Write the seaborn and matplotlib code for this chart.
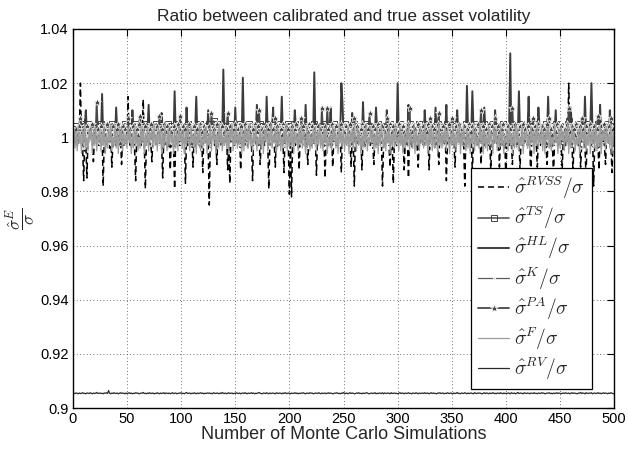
import numpy as np
import pandas as pd
import matplotlib
matplotlib.use("Agg")
import matplotlib.pyplot as plt
import seaborn as sns

# Number of Monte Carlo simulations on the x axis
sims = np.arange(1, 501)

# Ratios, stored as per-mille deviations from 1 (value = 1 + v/1000)
rvss_pm = [
    -2, 1, -3, -1, 0, 2, 20, -1, -4, -16, 1, -3, -15, 0, -2, -1, 1, -3, -9, 0, -2, 1, -1, -3, 0,
    -2, 1, -18, -1, 2, -3, 0, -1, -4, 1, -11, -2, 0, 1, -3, -1, 2, -2, 0, -10, 1, -3, -1, 0, -2,
    15, -1, -3, 1, -2, 0, -4, -16, 1, -2, 0, -1, -3, 1, 14, -2, -19, 0, -1, -3, 1, -2, -9, 0, -1,
    1, -3, 0, -2, -1, 1, -3, -15, 0, -1, 2, -2, -4, 0, -12, 1, -1, -3, -19, 0, -2, 1, -1, -3, 0,
    -2, 1, -1, -17, 0, -3, 1, -2, 0, -1, -11, 1, -3, 0, -2, 1, -1, -4, 0, -13, 1, -2, 0, -1, -3,
    -25, 0, -2, 1, -1, -3, 0, -10, 1, -2, -1, 0, -3, 1, -2, -1, 0, -12, -2, -17, 1, -1, 0, -3, -2,
    1, -1, -3, 0, -12, 1, -2, -1, 0, -3, 1, -2, -1, 0, -3, -16, 1, -2, 0, -1, -3, 1, -10, -2, 0,
    -1, -3, 1, 0, -2, -19, -1, 1, -3, 0, -2, -11, 1, -1, -3, 0, -2, 1, -1, -13, 0, -2, 1, -3, -21,
    -1, -22, 1, -2, 0, -3, -1, 1, -12, 0, -2, -1, 1, -3, 0, -2, -10, 1, -1, -3, 0, -2, 1, -1, -14,
    0, -2, 1, -3, -1, 0, -2, -15, 1, -1, -3, 0, -2, 1, -11, -1, 0, -3, 1, -2, -1, 0, -13, 1, -2,
    -1, 0, -3, 1, -2, -1, -11, 0, -2, -18, 1, -1, -3, 0, -2, 1, -12, -1, 0, -3, 1, -2, -1, 0, -3,
    1, -2, -10, 0, -1, -3, 1, -2, 0, -1, -18, -3, 1, -2, 0, -1, -3, -11, 1, -2, -17, -1, 0, -3, 1,
    -2, 0, -1, -3, 1, -12, -2, 0, -1, -15, 1, -2, -3, 0, -1, 1, -2, -3, -11, 0, -1, 1, -2, -3, 0,
    -1, -2, 1, -12, 0, -1, -3, 1, -2, 0, -1, -3, -10, 1, -2, 0, -1, -3, 1, -16, -2, 0, -1, 1, -3,
    0, -2, -11, 1, -1, -3, 0, -2, 1, -1, -3, -18, 0, -2, 1, -1, -3, 0, -13, -2, 1, -1, 0, -3, -2,
    1, -10, -1, 0, -3, -2, 1, -1, -3, 0, -12, -2, 1, -1, 0, -3, -2, 1, -11, -1, 0, -3, 1, -2, -16,
    0, -1, -3, 1, -2, -10, 0, -1, -3, 1, -2, 0, -12, -1, -3, 1, -2, 0, -1, -3, 1, -2, -15, 0, -1,
    -3, 1, -2, -11, 0, -1, -3, 1, -2, 0, -1, -3, -10, 1, -2, 0, -1, -3, -15, 1, -2, 0, -1, -3, 1,
    -2, -12, 0, -1, -3, 1, -2, 20, 0, -1, -3, -13, 1, -2, 0, -1, -3, 1, -11, -2, 0, -1, -3, -15, 1,
    -2, 0, -1, -3, 1, -18, -2, 0, -1, -3, -12, 1, -2, 0, -1, -3, -10, 1, -2, 0, -1, -3, -13, 0, -2,
]

ts_pm = [
    3, 1, 4, 2, 3, 0, 3, 5, 1, 2, 4, -1, 3, 2, 5, 1, 4, 0, 2, 3, 3, 1, 4, 2, 0,
    5, 2, 3, -1, 4, 1, 3, 2, 0, 3, 5, 1, 2, 4, 0, 3, 3, 2, 1, 4, -1, 3, 5, 2, 1,
    4, 0, 2, 3, 3, 1, 5, 2, -1, 4, 3, 1, 3, 2, 0, 4, 3, 5, 1, 2, -1, 4, 3, 3, 1,
    2, 5, 0, 3, 4, 1, 2, 3, 3, -1, 4, 2, 5, 1, 3, 0, 4, 2, 3, 1, 3, 5, 0, 2, 4,
    1, 3, 3, 2, 0, 5, 3, 1, 4, 2, -1, 3, 3, 1, 4, 2, 5, 0, 3, 1, 4, 3, 2, 0, 3,
    5, 1, 4, 2, 6, 0, 3, 5, 1, 2, 4, -1, 3, 3, 2, 1, 4, 3, 0, 5, 2, 4, 1, 3, 3,
    0, 4, 2, 5, 1, 3, -1, 3, 2, 4, 1, 3, 5, 0, 2, 4, 1, 3, 3, 2, -1, 4, 5, 1, 3,
    2, 3, 0, 4, 3, 1, 5, 2, -1, 3, 4, 1, 3, 2, 0, 5, 3, 1, 4, 2, 3, 0, 3, 5, 1,
    4, 2, 3, -1, 5, 1, 3, 2, 0, 4, 3, 1, 5, 2, 4, 0, 3, 3, 1, 2, 4, -1, 5, 3, 2,
    1, 4, 3, 0, 3, 2, 5, 1, 4, -1, 3, 3, 2, 1, 4, 5, 0, 3, 2, 4, 1, 3, 3, 0, 2,
    5, 1, 3, 4, 0, 2, 3, 3, 1, 5, -1, 4, 2, 3, 3, 1, 0, 4, 2, 5, 3, 1, 4, 0, 2,
    3, 3, 1, 4, 2, 0, 5, 3, 1, 4, 2, -1, 3, 3, 2, 0, 4, 5, 1, 3, 2, 3, 0, 4, 1,
    2, 5, 3, 0, 4, 1, 3, 2, 3, -1, 5, 4, 1, 2, 3, 3, 0, 4, 2, 5, 1, 3, 3, 0, 4,
    1, 3, 5, 2, 0, 3, 4, 1, 3, 2, -1, 5, 4, 2, 1, 3, 3, 0, 4, 2, 5, 1, 3, 3, 2,
    0, 4, 2, 5, 3, 1, 3, 0, 4, 2, 3, -1, 5, 1, 4, 2, 3, 3, 0, 4, 1, 5, 2, 3, 3,
    1, 4, 0, 3, 5, 2, 1, 3, 3, 4, -1, 2, 5, 1, 3, 4, 0, 3, 2, 3, 1, 5, 4, 0, 2,
    3, 3, 1, 4, 2, 5, 0, 3, 4, 1, 3, 2, -1, 5, 3, 4, 1, 2, 3, 0, 3, 5, 1, 4, 2,
    3, 0, 5, 2, 4, 1, 3, 3, 2, -1, 4, 5, 1, 3, 3, 2, 0, 4, 3, 1, 5, 2, 3, 0, 4,
    2, 4, 1, 3, 3, 0, 5, 6, 2, 4, 1, 3, 3, 2, -1, 4, 5, 1, 3, 2, 3, 0, 4, 3, 1,
    5, 2, 4, 0, 3, 3, 1, 4, 2, 5, -1, 3, 3, 1, 4, 2, 0, 5, 3, 1, 4, 3, 2, 0, 3,
]

hl_pm = [
    2, -1, 3, 0, 4, 1, -2, 3, 0, 2, 5, 10, 1, -1, 3, 2, 0, 4, -2, 1, 3, 0, 2, -1, 4,
    1, 16, 0, 3, -1, 2, 4, 0, 1, -2, 3, 1, 5, 0, 11, 2, -1, 3, 1, 0, 4, -1, 2, 3, 0,
    2, 4, -1, 1, 10, 3, 0, 2, -2, 4, 1, 3, 0, 2, -1, 5, 1, 0, 3, 12, 1, -1, 4, 2, 0,
    3, -1, 2, 1, 4, 0, 9, 2, -2, 3, 1, 0, 4, 2, -1, 3, 1, 0, 17, 2, 4, -1, 1, 3, 0,
    2, 1, 4, -1, 11, 3, 0, 2, -2, 1, 4, 0, 3, 15, 1, -1, 2, 4, 0, 3, 1, -2, 2, 0, 10,
    1, 3, -1, 4, 0, 2, 1, 3, -2, 4, 0, 2, 1, 25, 3, -1, 2, 0, 4, 1, 3, -1, 2, 0, 11,
    2, 4, -1, 1, 3, 0, 22, 2, 1, -2, 4, 0, 3, 1, 2, -1, 4, 0, 2, 12, 1, 3, -1, 0, 2,
    4, 1, -1, 15, 2, 0, 3, 1, 4, 11, -1, 2, 0, 3, 1, 4, 2, 15, 0, 3, -1, 2, 1, 4, 0,
    2, 3, -1, 1, 10, 4, 0, 2, 1, 3, -2, 2, 4, 0, 12, 1, 3, -1, 2, 0, 4, 1, 24, 2, 0,
    3, -1, 2, 4, 1, 0, 3, 2, -2, 4, 1, 0, 11, 3, 1, 2, -1, 4, 0, 2, 3, 1, 20, 13, 2,
    0, 3, -1, 4, 2, 1, 0, 9, 3, -2, 2, 4, 1, 0, 3, 2, -1, 13, 1, 4, 0, 2, 3, -1, 1,
    4, 0, 2, 1, 11, 3, -1, 2, 4, 0, 1, 3, -2, 2, 10, 4, 1, 0, 3, 2, -1, 4, 1, 0, 20,
    2, 3, -1, 1, 4, 0, 2, 3, 1, 12, -2, 4, 0, 2, 1, 3, -1, 4, 0, 2, 1, 3, 0, -1, 10,
    2, 4, 1, 0, 3, -1, 2, 4, 1, 11, 0, 3, 2, -2, 4, 1, 0, 3, 2, 12, -1, 4, 1, 0, 2,
    3, 1, -1, 4, 10, 2, 0, 3, 1, -2, 4, 2, 0, 19, 3, 1, -1, 2, 17, 4, 0, 2, 1, 3, -1,
    2, 4, 0, 1, 11, 3, -1, 2, 4, 0, 1, 3, 2, -2, 10, 4, 1, 0, 3, 2, -1, 4, 1, 0, 2,
    3, 1, 4, 31, 0, 2, -1, 3, 1, 4, 0, 17, 2, -1, 3, 1, 4, 0, 2, 3, 15, -1, 1, 4, 0,
    2, 3, -1, 1, 11, 4, 0, 2, 3, 1, -2, 4, 2, 15, 0, 3, 1, -1, 4, 2, 10, 0, 3, 1, 2,
    -1, 4, 0, 2, 3, 1, -2, 4, 2, 11, 0, 3, 1, 2, -1, 4, 0, 3, 2, 1, 4, -1, 15, 2, 0,
    3, 1, 4, 20, 2, -1, 0, 3, 4, 1, 2, 12, -1, 3, 0, 2, 4, 1, 3, -2, 10, 2, 0, 4, 1,
]

k_pm = [
    1, -2, 3, 0, -3, 2, 4, -1, 1, -4, 3, 0, 2, -2, 5, -1, 1, 3, -3, 0, 2, -1, 4, -2, 1,
    0, 3, -3, 2, -1, 4, 1, -2, 0, 3, -4, 2, 1, -1, 4, 0, -3, 2, 1, -2, 3, 0, -1, 5, -2,
    2, -1, 4, 0, -3, 1, 3, -2, 2, -4, 1, 4, -1, 0, 3, -2, 2, 1, -3, 4, 0, -1, 2, -2, 3,
    -1, 2, 0, 4, -3, 1, -2, 3, 0, 5, -1, 2, -4, 1, 3, -2, 0, 4, -1, 2, -3, 1, 3, -2, 0,
    4, -1, 2, -3, 1, 0, 3, -2, 5, -1, 2, 0, -4, 3, 1, -2, 4, 0, -1, 2, -3, 3, 1, -2, 0,
    2, -3, 4, 1, -1, 3, -2, 0, 2, -4, 4, 1, -1, 3, 0, -2, 2, 5, -3, 1, 0, -1, 3, -2, 2,
    -1, 4, 0, -3, 2, 1, -2, 3, 0, 4, -4, 2, -1, 1, 3, -2, 0, 4, -3, 2, 1, -1, 3, 0, -2,
    3, 0, -2, 4, 1, -3, 2, -1, 5, 0, -2, 3, 1, -4, 2, 0, 3, -1, 1, -3, 4, 2, -2, 0, 3,
    -2, 1, 4, -1, 0, 3, -3, 2, 1, -2, 4, 0, -1, 3, -4, 2, 1, 5, -2, 0, 3, -1, 2, -3, 1,
    4, -1, 0, 2, -3, 3, 1, -2, 4, 0, -1, 2, -4, 3, 1, -2, 0, 4, -1, 2, -3, 1, 3, 0, -2,
    2, 0, -3, 4, 1, -1, 3, -2, 0, 5, -3, 2, 1, -1, 4, 0, -2, 3, 1, -4, 2, 0, 3, -1, 1,
    -3, 2, 4, -1, 0, 3, -2, 1, 4, -3, 2, 0, -1, 3, 1, -2, 4, 0, -3, 2, 1, -1, 5, -2, 0,
    3, -1, 1, -3, 4, 0, 2, -2, 3, -1, 0, 4, -4, 2, 1, -2, 3, 0, -1, 4, -3, 2, 1, -1, 3,
    0, -2, 4, 1, -3, 2, 0, 3, -1, -4, 4, 1, -2, 2, 0, 3, -3, 1, 4, -1, 0, 2, -2, 3, 1,
    -1, 3, 0, -3, 4, 2, -2, 1, 3, -1, 0, 5, -4, 2, 1, -2, 3, 0, 4, -1, -3, 2, 1, -2, 4,
    0, 2, -3, 3, 1, -1, 4, 0, -2, 2, 3, -4, 1, 0, 4, -1, 2, -3, 3, 1, -2, 0, 4, -1, 2,
    -3, 1, 3, 0, -2, 4, 1, -1, 2, -4, 3, 0, 5, -2, 1, 2, -3, 4, 0, -1, 3, 1, -2, 2, 0,
    4, -2, 1, 3, -1, 0, 2, -3, 4, 1, -2, 3, 0, -1, 2, -4, 4, 1, -2, 3, 0, -1, 2, 5, -3,
    1, 3, -1, 0, 4, -2, 2, 1, -3, 3, 0, -1, 4, 2, -2, 1, 3, -4, 0, 2, -1, 4, 1, -3, 2,
    0, -1, 3, 2, -3, 4, 1, -2, 0, 3, -1, 2, -4, 1, 4, 0, -2, 3, 1, -1, 2, -3, 4, 0, 1,
]

pa_pm = [
    2, 0, 3, 1, -1, 4, 7, 2, 0, 3, 1, -2, 4, 2, 0, 3, 1, 5, -1, 2, 0, 13, 3, 1, -1,
    4, 2, 0, 3, 1, -2, 5, 2, 0, 3, 1, 4, -1, 2, 0, 3, 5, 1, -2, 2, 4, 0, 3, 1, 2,
    7, 0, 3, 1, -1, 4, 2, 0, 3, 1, 5, 8, 2, -1, 3, 0, 4, 1, 2, -2, 3, 5, 0, 2, 1,
    3, -1, 4, 2, 8, 0, 3, 1, 5, -2, 2, 4, 0, 3, 1, 2, -1, 4, 0, 3, 2, 5, 1, 8, 0,
    2, 4, -1, 3, 1, 0, 5, 2, -2, 3, 1, 4, 0, 2, 3, -1, 5, 1, 2, 0, 4, 3, -1, 2, 1,
    4, 0, 9, 2, 3, -1, 1, 5, 2, 0, 3, -2, 4, 1, 2, 0, 3, 9, 1, 4, -1, 2, 0, 3, 5,
    1, -1, 3, 2, 4, 0, 2, -2, 5, 1, 3, 0, 4, 2, -1, 3, 1, 5, 0, 2, 4, 10, 1, -1, 3,
    2, 0, 4, 1, 3, -2, 5, 2, 0, 3, 1, 7, -1, 4, 2, 0, 3, 1, 5, -1, 2, 4, 0, 3, 1,
    -2, 4, 2, 0, 3, 5, 1, -1, 3, 2, 7, 0, 4, 1, -2, 3, 2, 5, 0, 1, 4, -1, 3, 2, 0,
    4, 1, 3, -1, 11, 2, 0, 4, 1, 11, 3, -2, 2, 5, 0, 3, 1, 4, -1, 2, 0, 3, 5, 1, 2,
    -1, 4, 0, 3, 2, 5, 1, -2, 3, 7, 0, 4, 2, 1, -1, 3, 5, 0, 2, 4, 1, -1, 3, 9, 2,
    0, 4, 1, 3, -2, 2, 5, 0, 3, 1, 4, -1, 2, 0, 7, 3, 1, 5, -1, 2, 4, 0, 3, 1, 2,
    5, -1, 3, 0, 4, 2, 1, -2, 3, 5, 11, 0, 2, 4, -1, 3, 1, 0, 5, 2, 3, -1, 4, 1, 0,
    3, 2, 5, -1, 7, 1, 4, 0, 3, -2, 2, 5, 9, 1, 3, 0, 4, -1, 2, 3, 1, 5, 0, 2, 7,
    1, 3, -1, 4, 2, 0, 5, 1, 3, -2, 4, 2, 0, 3, 1, 5, -1, 2, 4, 0, 3, 1, -2, 5, 2,
    3, 10, 0, 4, 1, -1, 3, 2, 5, 0, 2, 4, -1, 3, 7, 1, 0, 4, 2, -2, 3, 5, 1, 0, 3,
    2, 4, -1, 3, 1, 11, 0, 5, 2, -2, 3, 1, 4, 0, 2, 5, -1, 3, 1, 4, 0, 2, -1, 3, 7,
    1, 4, 0, 3, 5, -1, 2, 4, 0, 3, 1, -2, 5, 2, 7, 0, 3, 1, 4, -1, 2, 5, 0, 3, 1,
    4, -1, 2, 0, 3, 5, 1, 11, 2, -2, 4, 0, 3, 1, 5, -1, 2, 4, 0, 7, 3, 1, -1, 4, 2,
    0, 3, 5, 1, -1, 4, 2, 0, 3, 8, 1, -2, 4, 2, 0, 5, 3, 1, -1, 4, 2, 7, 0, 3, 1,
]

f_pm = [
    3, -4, 2, -5, 4, -2, 1, -6, 3, -3, 5, -4, 0, -5, 3, -1, 4, -6, 2, -3, 4, -5, 1, -2, 3,
    -5, 2, -3, 4, -6, 1, -4, 3, -2, 5, -5, 0, -3, 4, -4, 2, -6, 3, -1, 4, -5, 2, -3, 1, -4,
    4, -2, 3, -6, 1, -4, 5, -3, 2, -5, 0, -4, 4, -2, 3, -6, 1, -3, 4, -5, 2, -1, 3, -4, 5,
    -3, 1, -5, 4, -2, 3, -6, 2, -4, 5, -1, -5, 3, -3, 4, -2, 1, -6, 3, -4, 2, -5, 4, -1, 2,
    -4, 3, -6, 2, -3, 5, -1, -5, 4, -2, 1, -4, 3, -6, 2, -3, 5, -5, 0, -4, 3, -2, 4, -6, 1,
    -3, 4, -5, 2, -1, 3, -6, 1, -4, 5, -2, 3, -5, 0, -3, 4, -4, 2, -6, 3, -1, 5, -5, 2, -3,
    4, -4, 1, -2, 3, -6, 2, -5, 4, -1, 3, -4, 5, -3, 1, -6, 2, -2, 4, -5, 0, -3, 3, -4, 2,
    -6, 3, -1, 4, -5, 2, -3, 5, -4, 1, -2, 3, -6, 4, -3, 2, -5, 0, -4, 3, -2, 5, -5, 1, -3,
    3, -4, 4, -6, 2, -2, 1, -5, 3, -3, 5, -4, 2, -1, -6, 4, -3, 2, -5, 1, -4, 3, -2, 4, -6,
    2, -3, 5, -4, 1, -5, 3, -2, 4, -6, 0, -3, 2, -5, 4, -1, 3, -4, 1, -6, 5, -2, 2, -4, 3,
    -5, 1, -3, 4, -6, 2, -2, 3, -4, 5, -1, -5, 4, -3, 2, -6, 1, -4, 3, -2, 5, -5, 0, -3, 4,
    -2, 3, -5, 1, -4, 4, -6, 2, -3, 5, -1, -4, 3, -5, 2, -2, 4, -6, 1, -3, 3, -4, 5, -2, 0,
    -5, 4, -3, 2, -6, 1, -4, 3, -2, 5, -5, 2, -1, -4, 4, -6, 3, -3, 1, -5, 4, -2, 2, -4, 5,
    -3, 1, -6, 3, -2, 4, -5, 2, -4, 0, 3, -6, 5, -3, 1, -4, 2, -2, 4, -5, 3, -1, -6, 2, -3,
    4, -4, 1, -5, 3, -2, 5, -6, 2, -3, 4, -1, -5, 3, -4, 2, -6, 1, -2, 4, -5, 3, -3, 0, -4,
    5, -2, 2, -6, 3, -4, 1, -5, 4, -3, 2, -1, -6, 4, -2, 3, -5, 1, -4, 5, -3, 2, -6, 0, -2,
    3, -5, 4, -3, 1, -6, 2, -4, 5, -2, 3, -5, 0, -3, 4, -6, 2, -1, 3, -4, 1, -5, 4, -2, 2,
    -6, 3, -3, 5, -4, 1, -2, 4, -5, 2, -6, 3, -1, 4, -4, 2, -5, 0, -3, 5, -2, 1, -6, 3, -4,
    4, -1, 2, -5, 3, -3, 5, -6, 1, -4, 4, -2, 2, -5, 0, -3, 3, -6, 4, -1, 2, -4, 5, -5, 1,
    -3, 4, -6, 2, -2, 3, -4, 5, -5, 1, -3, 4, -6, 2, -1, 3, -5, 4, -2, 1, -4, 5, -6, 2, -3,
]

# RV ratio, stored in units of 1e-4 above 0.9 (value = 0.9 + v/10000)
rv_e4 = [
    55, 54, 56, 55, 53, 56, 54, 55, 57, 54, 55, 53, 56, 55, 54, 57, 55, 53, 56, 54, 55, 58, 54, 55, 56,
    54, 55, 53, 56, 55, 57, 54, 65, 55, 53, 56, 54, 57, 55, 54, 56, 53, 55, 57, 54, 56, 55, 53, 56, 54,
    55, 57, 54, 56, 53, 55, 54, 57, 55, 56, 53, 54, 56, 55, 58, 54, 55, 53, 56, 54, 57, 55, 54, 56, 53,
    55, 54, 57, 55, 53, 56, 54, 55, 57, 53, 56, 55, 54, 56, 53, 55, 57, 54, 55, 56, 53, 54, 56, 55, 57,
    54, 55, 53, 56, 58, 54, 55, 56, 53, 55, 54, 57, 55, 53, 56, 54, 55, 57, 54, 56, 53, 55, 54, 56, 55,
    56, 54, 55, 53, 57, 55, 54, 56, 55, 53, 56, 54, 58, 55, 54, 56, 53, 55, 57, 54, 55, 56, 53, 55, 54,
    57, 55, 54, 56, 53, 55, 56, 54, 57, 55, 53, 56, 54, 55, 57, 54, 56, 53, 55, 54, 56, 58, 55, 54, 53,
    56, 55, 54, 57, 55, 53, 56, 54, 55, 56, 54, 53, 57, 55, 54, 56, 55, 53, 56, 54, 57, 55, 54, 56, 55,
    53, 56, 54, 55, 57, 54, 56, 53, 55, 54, 56, 55, 57, 54, 53, 56, 55, 54, 57, 55, 56, 53, 54, 56, 55,
    54, 57, 55, 53, 56, 54, 55, 56, 53, 55, 57, 54, 56, 55, 53, 54, 56, 55, 57, 54, 55, 53, 56, 54, 58,
    55, 54, 56, 53, 55, 57, 54, 56, 55, 53, 54, 56, 55, 57, 54, 55, 53, 56, 54, 55, 57, 56, 54, 53, 55,
    56, 54, 55, 57, 53, 55, 54, 56, 55, 54, 57, 53, 56, 55, 54, 56, 55, 53, 57, 54, 55, 56, 54, 55, 53,
    55, 57, 54, 56, 55, 53, 56, 54, 55, 57, 54, 55, 53, 56, 55, 54, 57, 55, 53, 56, 54, 55, 56, 54, 57,
    54, 55, 56, 53, 55, 57, 54, 56, 55, 54, 53, 56, 55, 57, 54, 55, 56, 53, 55, 54, 57, 55, 54, 56, 55,
    53, 56, 54, 55, 58, 54, 55, 53, 56, 55, 54, 57, 55, 53, 56, 54, 55, 56, 54, 53, 57, 55, 54, 56, 55,
    56, 54, 53, 55, 57, 54, 56, 55, 53, 56, 54, 55, 57, 54, 55, 53, 56, 55, 54, 57, 55, 53, 56, 54, 55,
    54, 56, 55, 53, 57, 55, 54, 56, 53, 55, 58, 54, 55, 56, 54, 53, 57, 55, 54, 56, 55, 53, 56, 55, 54,
    57, 54, 55, 53, 56, 55, 54, 57, 55, 56, 53, 54, 56, 55, 57, 54, 55, 53, 56, 54, 55, 57, 54, 56, 55,
    53, 55, 56, 54, 57, 55, 54, 56, 53, 55, 57, 54, 56, 55, 54, 53, 56, 55, 58, 54, 56, 55, 53, 57, 55,
    54, 56, 55, 57, 53, 55, 56, 54, 55, 57, 54, 56, 53, 55, 57, 54, 56, 55, 53, 56, 54, 57, 55, 54, 52,
]

labels = [r"$\hat{\sigma}^{RVSS}/\sigma$", r"$\hat{\sigma}^{TS}/\sigma$",
          r"$\hat{\sigma}^{HL}/\sigma$", r"$\hat{\sigma}^{K}/\sigma$",
          r"$\hat{\sigma}^{PA}/\sigma$", r"$\hat{\sigma}^{F}/\sigma$",
          r"$\hat{\sigma}^{RV}/\sigma$"]
x_ticks = [0, 50, 100, 150, 200, 250, 300, 350, 400, 450, 500]
y_ticks = [0.9, 0.92, 0.94, 0.96, 0.98, 1.0, 1.02, 1.04]
y_tick_labels = ["0.9", "0.92", "0.94", "0.96", "0.98", "1", "1.02", "1.04"]

series = [
    1 + np.array(rvss_pm) / 1000.0,
    1 + np.array(ts_pm) / 1000.0,
    1 + np.array(hl_pm) / 1000.0,
    1 + np.array(k_pm) / 1000.0,
    1 + np.array(pa_pm) / 1000.0,
    1 + np.array(f_pm) / 1000.0,
    0.9 + np.array(rv_e4) / 10000.0,
]

styles = [
    dict(color="black", lw=1.1, dashes=(4, 2.5)),
    dict(color="#555555", lw=1.2, marker="s", markersize=4, markerfacecolor="none",
         markeredgecolor="#444444", markeredgewidth=0.7),
    dict(color="#3c3c3c", lw=1.4),
    dict(color="#5e5e5e", lw=0.9, marker=".", markersize=2.5),
    dict(color="#484848", lw=1.3, marker="*", markersize=6, markeredgewidth=0.5),
    dict(color="#9c9c9c", lw=0.9),
    dict(color="#2a2a2a", lw=0.9),
]

sns.set_theme(style="white")
plt.rcParams["font.family"] = ["Liberation Sans", "DejaVu Sans"]
plt.rcParams["mathtext.fontset"] = "cm"

fig = plt.figure(figsize=(6.28, 4.53), dpi=100)
ax = fig.add_axes([0.116, 0.099, 0.862, 0.837])

for y, lab, st in zip(series, labels, styles):
    df = pd.DataFrame({"sim": sims, "ratio": y})
    sns.lineplot(data=df, x="sim", y="ratio", ax=ax, label=lab, estimator=None, **st)

ax.set_xlim(0, 500)
ax.set_ylim(0.9, 1.04)
ax.set_xticks(x_ticks)
ax.set_yticks(y_ticks)
ax.set_yticklabels(y_tick_labels)
ax.tick_params(axis="both", direction="in", length=5, width=0.8, labelsize=10.5,
               top=True, right=True, pad=3, colors="black")
ax.grid(True, linestyle=(0, (1, 3)), color="#444444", linewidth=0.6)
for sp in ax.spines.values():
    sp.set_color("black")
    sp.set_linewidth(1.0)

ax.set_title("Ratio between calibrated and true asset volatility", fontsize=12.5, pad=6)
ax.set_xlabel("Number of Monte Carlo Simulations", fontsize=13, labelpad=0)
ax.set_ylabel(r"$\dfrac{\hat{\sigma}^{E}}{\sigma}$", fontsize=12.5)
ax.yaxis.set_label_coords(-0.066, 0.5)

leg = ax.legend(loc="upper left", bbox_to_anchor=(0.736, 0.633), fontsize=14,
                frameon=True, fancybox=False, edgecolor="black", framealpha=1,
                labelspacing=0.2, handlelength=1.6, handletextpad=0.25,
                borderpad=0.35, borderaxespad=0, numpoints=1)
leg.get_frame().set_linewidth(0.9)

fig.savefig("out.png", dpi=100)
